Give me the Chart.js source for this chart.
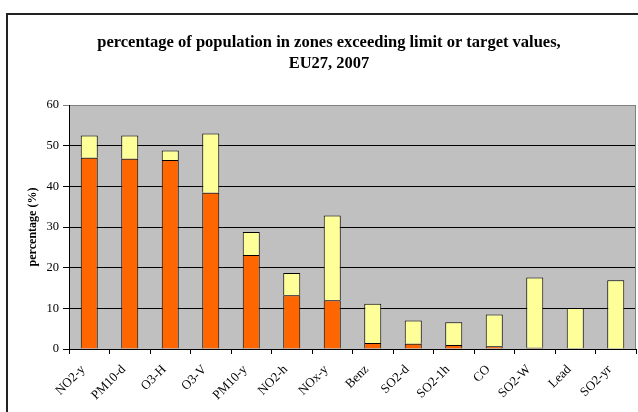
<!DOCTYPE html>
<html>
<head>
<meta charset="utf-8">
<script src="https://cdn.jsdelivr.net/npm/chart.js@4/dist/chart.umd.min.js"></script>
<style>
  html, body { margin: 0; padding: 0; background: #fff; }
  #chart { display: block; }
</style>
</head>
<body>
<canvas id="chart" width="638" height="412"></canvas>
<script>
const categories = ["NO2-y", "PM10-d", "O3-H", "O3-V", "PM10-y", "NO2-h", "NOx-y", "Benz", "SO2-d", "SO2-1h", "CO", "SO2-W", "Lead", "SO2-yr"]
// lower (orange) part of each bar
const aboveLimit = [47.0, 46.8, 46.5, 38.4, 23.1, 13.2, 12.0, 1.5, 1.3, 1.0, 0.7, 0.3, 0.2, 0.0]
// upper (yellow) part stacked on top
const aboveTarget = [5.5, 5.7, 2.3, 14.6, 5.7, 5.5, 20.8, 9.6, 5.7, 5.6, 7.8, 17.3, 9.9, 16.9]
const yTicks = [0, 10, 20, 30, 40, 50, 60]
const titleLines = ["percentage of population in zones exceeding limit or target values,", "EU27, 2007"]

const serif = "'Liberation Serif', 'Times New Roman', serif"

const framePlugin = {
  id: "frame",
  beforeDraw(chart) {
    const { ctx, chartArea } = chart
    ctx.save()
    ctx.fillStyle = "#fff"
    ctx.fillRect(0, 0, chart.width, chart.height)
    // outer chart border (only left and top visible in the crop)
    ctx.strokeStyle = "#222"
    ctx.lineWidth = 2
    ctx.beginPath()
    ctx.moveTo(7, chart.height + 5)
    ctx.lineTo(7, 14)
    ctx.lineTo(chart.width + 5, 14)
    ctx.stroke()
    // plot area background
    ctx.fillStyle = "#c0c0c0"
    ctx.fillRect(chartArea.left, chartArea.top, chartArea.right - chartArea.left, chartArea.bottom - chartArea.top)
    ctx.restore()
  },
  afterDraw(chart) {
    const { ctx, chartArea } = chart
    ctx.save()
    ctx.strokeStyle = "#808080"
    ctx.lineWidth = 1
    ctx.beginPath()
    ctx.moveTo(chartArea.right - 0.5, chartArea.top)
    ctx.lineTo(chartArea.right - 0.5, chartArea.bottom)
    ctx.stroke()
    ctx.fillStyle = "#000"
    ctx.font = "bold 16.5px " + serif
    ctx.textAlign = "center"
    ctx.textBaseline = "middle"
    ctx.fillText(titleLines[0], 329, 43)
    ctx.fillText(titleLines[1], 329, 64)
    ctx.restore()
  }
}

new Chart(document.getElementById("chart"), {
  type: "bar",
  data: {
    labels: categories,
    datasets: [
      {
        label: "limit",
        data: aboveLimit,
        backgroundColor: "#ff6600",
        borderColor: "#000",
        borderWidth: 1,
        barPercentage: 0.42,
        categoryPercentage: 1
      },
      {
        label: "target",
        data: aboveTarget,
        backgroundColor: "#ffff99",
        borderColor: "#000",
        borderWidth: 1,
        barPercentage: 0.42,
        categoryPercentage: 1
      }
    ]
  },
  options: {
    responsive: false,
    animation: false,
    layout: {
      padding: { top: 105, right: 2, left: 0, bottom: 0 }
    },
    scales: {
      x: {
        stacked: true,
        grid: {
          offset: true,
          drawOnChartArea: false,
          tickLength: 5,
          color: "#000"
        },
        border: { color: "#000" },
        ticks: {
          minRotation: 45,
          maxRotation: 45,
          color: "#000",
          padding: 8,
          labelOffset: -6,
          font: { family: serif, size: 13 }
        },
        afterFit(scale) {
          scale.height = 63
        }
      },
      y: {
        stacked: true,
        min: 0,
        max: 60,
        afterBuildTicks(scale) {
          scale.ticks = yTicks.map(v => ({ value: v }))
        },
        grid: {
          tickLength: 6,
          color: ctx => (ctx.tick && ctx.tick.value === 60 ? "#808080" : "#000")
        },
        border: { color: "#000" },
        ticks: {
          color: "#000",
          padding: 4,
          font: { family: serif, size: 12.5 }
        },
        title: {
          display: true,
          text: "percentage (%)",
          color: "#000",
          padding: { top: 26, bottom: 0 },
          font: { family: serif, size: 12, weight: "bold" }
        },
        afterFit(scale) {
          scale.width = 69
        }
      }
    },
    plugins: {
      legend: { display: false },
      tooltip: { enabled: false }
    }
  },
  plugins: [framePlugin]
})
</script>
</body>
</html>
